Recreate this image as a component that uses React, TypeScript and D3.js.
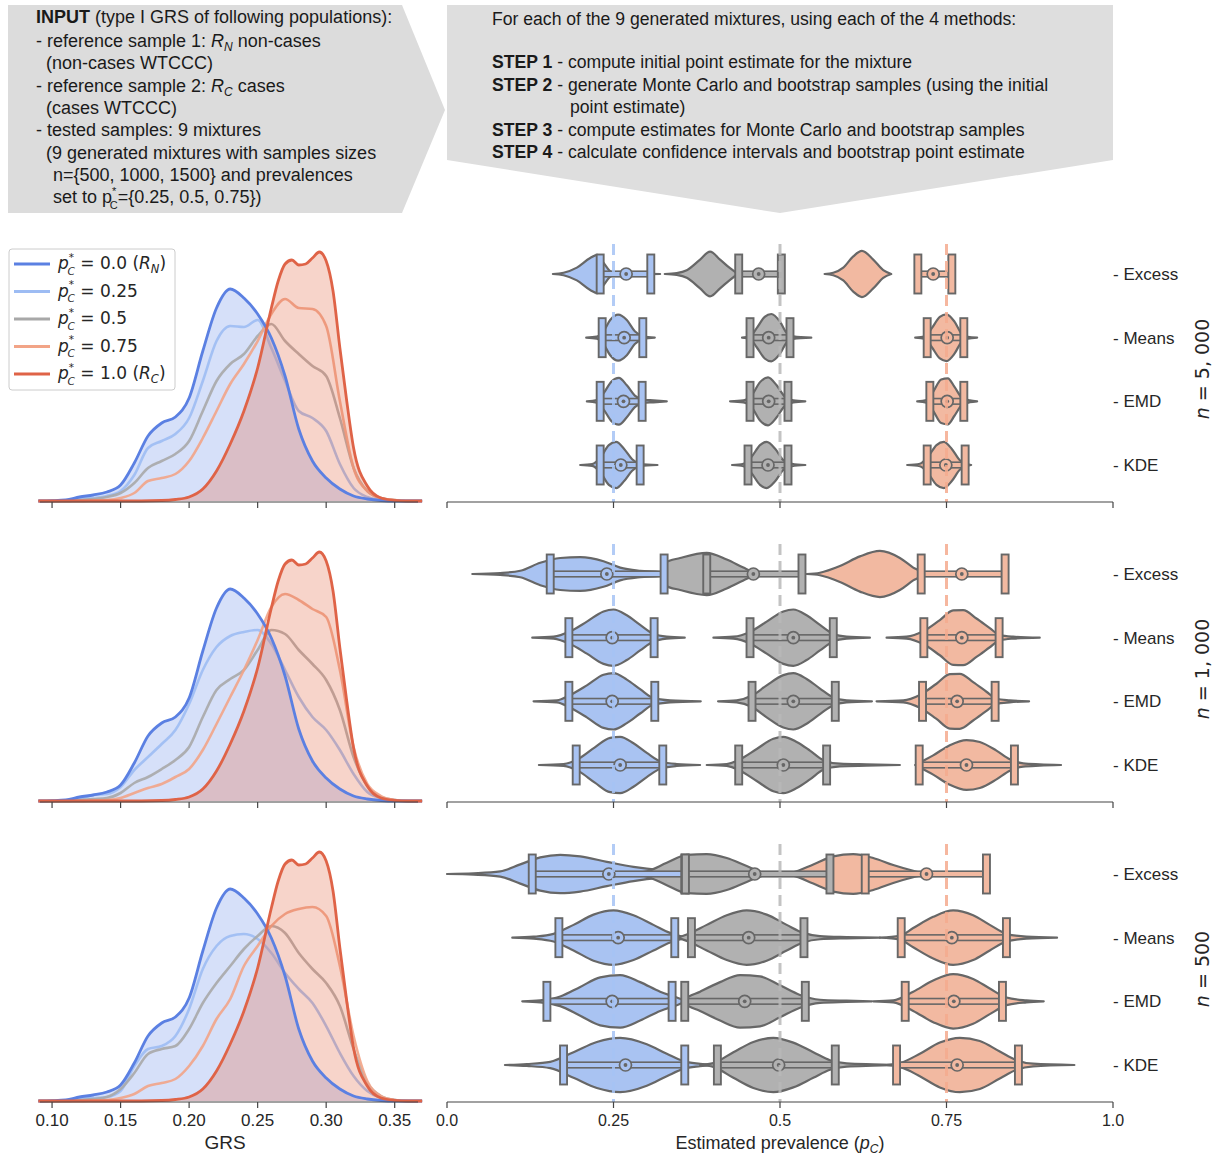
import React from "react";
import * as d3 from "d3";

// ---------------- DATA ----------------
const GRS_GRID = [0.09, 0.10, 0.11, 0.12, 0.13, 0.14, 0.15, 0.16, 0.17, 0.18, 0.19, 0.20, 0.21, 0.22, 0.23, 0.24, 0.25, 0.26, 0.27, 0.28, 0.29, 0.30, 0.31, 0.32, 0.33, 0.34, 0.35, 0.36, 0.37];
// reference non-cases R_N (density, arbitrary units)
const RN_DENSITY = [0, 0.3, 1, 4, 6, 9, 16, 38, 65, 78, 84, 103, 150, 193, 212, 203, 187, 163, 125, 72, 40, 23, 12, 5, 2, 0.5, 0, 0, 0];
// reference cases R_C
const RC_GRID = [0.09, 0.15, 0.18, 0.19, 0.20, 0.21, 0.22, 0.23, 0.24, 0.25, 0.26, 0.265, 0.27, 0.275, 0.28, 0.285, 0.29, 0.295, 0.30, 0.305, 0.31, 0.315, 0.32, 0.33, 0.34, 0.35, 0.36, 0.37];
const RC_DENSITY = [0, 0, 0.5, 1.5, 4, 12, 30, 57, 90, 133, 193, 220, 237, 241, 236, 237, 243, 249, 240, 210, 153, 100, 53, 15, 3, 0.7, 0, 0];

// mixtures p*_C = 0.25, 0.5, 0.75 for each sample size
const MIX_N5000 = [
  [0, 0, 0.5, 2, 3, 5, 10, 26, 53, 60, 67, 83, 120, 160, 175, 174, 181, 153, 120, 90, 83, 70, 37, 13, 4, 1, 0, 0, 0],
  [0, 0, 0, 1, 2, 4, 8, 18, 33, 40, 47, 60, 90, 120, 137, 147, 165, 177, 160, 147, 135, 125, 83, 33, 10, 3, 1, 0, 0],
  [0, 0, 0, 0, 0.5, 1, 3, 8, 20, 23, 27, 40, 63, 90, 117, 137, 160, 187, 202, 193, 192, 175, 100, 33, 10, 3, 1, 0, 0],
];
const MIX_N1000 = [
  [0, 0, 0.5, 2, 6, 7, 14, 31, 44, 57, 71, 97, 131, 154, 165, 169, 171, 157, 131, 104, 84, 71, 51, 27, 9, 3, 1, 0, 0],
  [0, 0, 0, 1, 2, 3, 8, 18, 24, 32, 41, 54, 84, 111, 122, 131, 151, 171, 167, 151, 137, 121, 91, 44, 15, 4, 1, 0, 0],
  [0, 0, 0, 0, 0.5, 1, 3, 8, 13, 17, 24, 32, 51, 77, 104, 131, 161, 194, 207, 201, 192, 184, 131, 54, 17, 5, 1, 0, 0],
];
const MIX_N500 = [
  [0, 0, 0.5, 2, 3, 4, 10, 35, 52, 55, 65, 92, 132, 155, 165, 167, 162, 148, 128, 112, 98, 75, 48, 25, 10, 3, 1, 0, 0],
  [0, 0, 0, 1, 2, 4, 12, 28, 47, 52, 55, 72, 98, 118, 135, 152, 165, 175, 168, 148, 132, 118, 95, 52, 18, 5, 1, 0, 0],
  [0, 0, 0, 0, 0.5, 1, 3, 7, 15, 18, 22, 35, 55, 82, 102, 135, 155, 175, 187, 192, 194, 185, 135, 65, 20, 5, 1, 0, 0],
];

const METHODS = ["Excess", "Means", "EMD", "KDE"];
const TRUE_PREV = [0.25, 0.5, 0.75];
const N_LABELS = ["5, 000", "1, 000", "500"];
const GRS_TICKS = [0.10, 0.15, 0.20, 0.25, 0.30, 0.35];
const PREV_TICKS = [0, 0.25, 0.5, 0.75, 1.0];
const PREV_TICK_LABELS = ["0.0", "0.25", "0.5", "0.75", "1.0"];

// violin profiles: [estimated prevalence, relative density], per method x mixture
const VIOLINS_N5000 = [
  [
    [[0.159, 0], [0.175, 0.04], [0.195, 0.2], [0.215, 0.5], [0.226, 0.6], [0.235, 0.35], [0.248, 0.05], [0.27, 0.03], [0.32, 0]],
    [[0.327, 0], [0.345, 0.03], [0.36, 0.12], [0.38, 0.45], [0.395, 0.7], [0.41, 0.45], [0.425, 0.18], [0.437, 0]],
    [[0.567, 0], [0.58, 0.04], [0.595, 0.2], [0.61, 0.55], [0.623, 0.72], [0.64, 0.45], [0.655, 0.12], [0.667, 0]],
  ],
  [
    [[0.209, 0], [0.225, 0.03], [0.235, 0.2], [0.245, 0.55], [0.257, 0.72], [0.27, 0.55], [0.282, 0.2], [0.295, 0.04], [0.312, 0]],
    [[0.443, 0], [0.455, 0.04], [0.465, 0.3], [0.477, 0.65], [0.487, 0.74], [0.5, 0.5], [0.51, 0.15], [0.52, 0.04], [0.547, 0]],
    [[0.703, 0], [0.718, 0.04], [0.728, 0.3], [0.74, 0.65], [0.75, 0.73], [0.762, 0.5], [0.772, 0.15], [0.782, 0.03], [0.796, 0]],
  ],
  [
    [[0.21, 0], [0.225, 0.04], [0.235, 0.25], [0.247, 0.62], [0.258, 0.73], [0.27, 0.5], [0.282, 0.18], [0.295, 0.05], [0.31, 0.03], [0.33, 0]],
    [[0.425, 0], [0.445, 0.03], [0.458, 0.2], [0.47, 0.6], [0.482, 0.75], [0.495, 0.5], [0.507, 0.15], [0.52, 0.03], [0.538, 0]],
    [[0.706, 0], [0.72, 0.04], [0.73, 0.3], [0.742, 0.68], [0.752, 0.72], [0.762, 0.45], [0.773, 0.12], [0.785, 0.03], [0.796, 0]],
  ],
  [
    [[0.2, 0], [0.218, 0.03], [0.23, 0.22], [0.243, 0.62], [0.254, 0.72], [0.266, 0.5], [0.278, 0.18], [0.29, 0.04], [0.316, 0]],
    [[0.428, 0], [0.445, 0.04], [0.457, 0.25], [0.47, 0.62], [0.48, 0.72], [0.493, 0.5], [0.505, 0.15], [0.518, 0.04], [0.538, 0]],
    [[0.691, 0], [0.71, 0.04], [0.722, 0.25], [0.735, 0.62], [0.746, 0.72], [0.758, 0.5], [0.77, 0.15], [0.778, 0.05], [0.787, 0]],
  ],
];
const VIOLINS_N1000 = [
  [
    [[0.038, 0], [0.08, 0.03], [0.11, 0.1], [0.14, 0.35], [0.17, 0.5], [0.2, 0.53], [0.235, 0.4], [0.26, 0.2], [0.29, 0.1], [0.32, 0.06], [0.33, 0]],
    [[0.326, 0], [0.327, 0.35], [0.35, 0.5], [0.39, 0.66], [0.42, 0.45], [0.445, 0.2], [0.46, 0.06], [0.47, 0]],
    [[0.54, 0], [0.56, 0.04], [0.59, 0.25], [0.62, 0.55], [0.65, 0.72], [0.68, 0.5], [0.7, 0.2], [0.712, 0.05], [0.714, 0]],
  ],
  [
    [[0.128, 0], [0.16, 0.03], [0.185, 0.2], [0.21, 0.5], [0.235, 0.82], [0.25, 0.88], [0.27, 0.7], [0.29, 0.4], [0.31, 0.12], [0.33, 0.03], [0.357, 0]],
    [[0.4, 0], [0.43, 0.03], [0.455, 0.18], [0.48, 0.5], [0.505, 0.82], [0.52, 0.88], [0.54, 0.7], [0.56, 0.4], [0.58, 0.12], [0.6, 0.03], [0.635, 0]],
    [[0.66, 0], [0.69, 0.03], [0.715, 0.2], [0.74, 0.55], [0.76, 0.85], [0.775, 0.86], [0.795, 0.6], [0.815, 0.3], [0.83, 0.08], [0.85, 0.03], [0.89, 0]],
  ],
  [
    [[0.13, 0], [0.165, 0.03], [0.185, 0.2], [0.21, 0.5], [0.235, 0.83], [0.25, 0.88], [0.27, 0.68], [0.29, 0.38], [0.31, 0.1], [0.335, 0.03], [0.381, 0]],
    [[0.407, 0], [0.435, 0.03], [0.458, 0.18], [0.48, 0.5], [0.505, 0.82], [0.52, 0.88], [0.54, 0.7], [0.56, 0.4], [0.58, 0.12], [0.6, 0.03], [0.638, 0]],
    [[0.645, 0], [0.685, 0.03], [0.71, 0.2], [0.735, 0.55], [0.755, 0.85], [0.77, 0.86], [0.79, 0.6], [0.81, 0.3], [0.825, 0.08], [0.845, 0.03], [0.874, 0]],
  ],
  [
    [[0.138, 0], [0.175, 0.03], [0.198, 0.2], [0.222, 0.55], [0.245, 0.85], [0.26, 0.88], [0.28, 0.68], [0.3, 0.38], [0.322, 0.1], [0.345, 0.03], [0.38, 0]],
    [[0.39, 0], [0.42, 0.03], [0.44, 0.18], [0.465, 0.5], [0.49, 0.82], [0.505, 0.88], [0.525, 0.72], [0.545, 0.45], [0.565, 0.15], [0.59, 0.04], [0.63, 0.02], [0.68, 0]],
    [[0.703, 0], [0.71, 0.08], [0.73, 0.3], [0.755, 0.62], [0.78, 0.78], [0.8, 0.72], [0.825, 0.45], [0.845, 0.18], [0.865, 0.05], [0.89, 0.02], [0.922, 0]],
  ],
];
const VIOLINS_N500 = [
  [
    [[0.0, 0], [0.04, 0.02], [0.08, 0.08], [0.11, 0.3], [0.14, 0.52], [0.17, 0.6], [0.2, 0.55], [0.24, 0.38], [0.28, 0.22], [0.32, 0.12], [0.357, 0.08], [0.36, 0]],
    [[0.27, 0], [0.3, 0.08], [0.33, 0.35], [0.36, 0.6], [0.39, 0.62], [0.42, 0.5], [0.45, 0.25], [0.475, 0.05], [0.5, 0.02], [0.51, 0]],
    [[0.5, 0], [0.52, 0.05], [0.55, 0.3], [0.58, 0.55], [0.61, 0.62], [0.64, 0.5], [0.67, 0.28], [0.7, 0.1], [0.715, 0.03], [0.73, 0]],
  ],
  [
    [[0.098, 0], [0.13, 0.03], [0.16, 0.12], [0.19, 0.4], [0.22, 0.72], [0.25, 0.85], [0.28, 0.7], [0.31, 0.4], [0.335, 0.15], [0.345, 0.08], [0.36, 0]],
    [[0.345, 0], [0.36, 0.1], [0.39, 0.4], [0.42, 0.7], [0.45, 0.85], [0.48, 0.72], [0.51, 0.4], [0.535, 0.15], [0.56, 0.05], [0.6, 0.02], [0.65, 0]],
    [[0.65, 0], [0.68, 0.06], [0.7, 0.3], [0.73, 0.65], [0.76, 0.85], [0.79, 0.7], [0.815, 0.4], [0.84, 0.12], [0.87, 0.03], [0.916, 0]],
  ],
  [
    [[0.113, 0], [0.14, 0.03], [0.17, 0.15], [0.2, 0.45], [0.23, 0.75], [0.26, 0.82], [0.29, 0.6], [0.32, 0.3], [0.345, 0.12], [0.36, 0]],
    [[0.356, 0], [0.357, 0.05], [0.38, 0.3], [0.41, 0.6], [0.44, 0.82], [0.47, 0.78], [0.5, 0.5], [0.53, 0.2], [0.56, 0.05], [0.6, 0.02], [0.638, 0]],
    [[0.64, 0], [0.67, 0.03], [0.7, 0.3], [0.73, 0.65], [0.76, 0.85], [0.79, 0.7], [0.815, 0.4], [0.84, 0.12], [0.87, 0.03], [0.896, 0]],
  ],
  [
    [[0.087, 0], [0.12, 0.03], [0.155, 0.1], [0.19, 0.4], [0.225, 0.72], [0.26, 0.85], [0.3, 0.65], [0.33, 0.35], [0.355, 0.12], [0.38, 0.04], [0.4, 0]],
    [[0.38, 0], [0.4, 0.06], [0.43, 0.4], [0.46, 0.72], [0.49, 0.85], [0.52, 0.7], [0.55, 0.4], [0.575, 0.15], [0.6, 0.05], [0.64, 0.02], [0.68, 0]],
    [[0.66, 0], [0.68, 0.06], [0.71, 0.35], [0.74, 0.7], [0.77, 0.85], [0.8, 0.75], [0.83, 0.42], [0.855, 0.15], [0.88, 0.04], [0.942, 0]],
  ],
];

// confidence intervals: [lower, bootstrap point estimate, upper]
const CI_N5000 = [
  [[0.23, 0.269, 0.306], [0.438, 0.468, 0.502], [0.707, 0.73, 0.758]],
  [[0.233, 0.266, 0.294], [0.455, 0.483, 0.515], [0.721, 0.751, 0.776]],
  [[0.23, 0.265, 0.293], [0.455, 0.483, 0.512], [0.725, 0.751, 0.776]],
  [[0.23, 0.261, 0.29], [0.452, 0.482, 0.512], [0.721, 0.749, 0.778]],
];
const CI_N1000 = [
  [[0.155, 0.24, 0.326], [0.39, 0.46, 0.533], [0.712, 0.773, 0.838]],
  [[0.183, 0.248, 0.311], [0.455, 0.52, 0.58], [0.716, 0.773, 0.829]],
  [[0.183, 0.248, 0.312], [0.458, 0.52, 0.583], [0.714, 0.766, 0.823]],
  [[0.194, 0.26, 0.324], [0.438, 0.505, 0.57], [0.709, 0.78, 0.852]],
];
const CI_N500 = [
  [[0.128, 0.243, 0.357], [0.358, 0.462, 0.575], [0.628, 0.72, 0.81]],
  [[0.168, 0.257, 0.342], [0.367, 0.453, 0.536], [0.682, 0.758, 0.84]],
  [[0.15, 0.248, 0.338], [0.357, 0.447, 0.538], [0.688, 0.761, 0.834]],
  [[0.175, 0.268, 0.357], [0.406, 0.498, 0.583], [0.675, 0.766, 0.858]],
];

// ---------------- STYLE ----------------
const FONT = "'Liberation Sans', Arial, Helvetica, sans-serif";
const MATH = "'DejaVu Sans', sans-serif";
const RN_COLOR = "#5b80e2";
const RC_COLOR = "#df6347";
const MIX_LINE = ["#9dbcf3", "#a8a8a8", "#f2a487"];
const VIOLIN_FILL = ["#a9c3f2", "#b1b1b1", "#f2b9a1"];
const DASH_COLOR = ["#a6c3f5", "#b8b8b8", "#f4aa8e"];
const EDGE = "#676767";
const AXIS = "#444";

const BASE = [502, 802, 1102];
const ROWS = [
  { mix: MIX_N5000, violins: VIOLINS_N5000, ci: CI_N5000 },
  { mix: MIX_N1000, violins: VIOLINS_N1000, ci: CI_N1000 },
  { mix: MIX_N500, violins: VIOLINS_N500, ci: CI_N500 },
];

const xL = d3.scaleLinear().domain([0.0912, 0.367]).range([40, 418]);
const xR = d3.scaleLinear().domain([0, 1]).range([447, 1113]);
const VH = 32;

function LegendLabel({ x, y, value, sub }: { x: number; y: number; value: string; sub?: string }) {
  return (
    <text x={x} y={y} fontFamily={MATH} fontSize={17} fill="#262626">
      <tspan fontStyle="italic">p</tspan>
      <tspan fontSize={10.5} dy={-8.5}>*</tspan>
      <tspan fontSize={10.5} fontStyle="italic" dx={-6.5} dy={14}>C</tspan>
      <tspan dy={-5.5}>{` = ${value}`}</tspan>
      {sub ? (
        <>
          <tspan>{" ("}</tspan>
          <tspan fontStyle="italic">R</tspan>
          <tspan fontSize={11.5} fontStyle="italic" dy={4}>{sub}</tspan>
          <tspan dy={-4}>)</tspan>
        </>
      ) : null}
    </text>
  );
}

export default function App() {
  const lineGen = (xs: number[]) =>
    d3
      .line<number>()
      .x((_, i) => xL(xs[i]))
      .curve(d3.curveMonotoneX);

  return (
    <svg width={1219} height={1156} style={{ display: "block", position: "absolute", left: 0, top: 0 }} fontFamily={FONT}>
      <rect x={0} y={0} width={1219} height={1156} fill="#fff" />
      {/* Header shapes */}
      <polygon points="447,5 1113,5 1113,160 780,213 447,160" fill="#dedede" />
      <polygon points="8,5 402,5 445,110 402,213 8,213" fill="#dcdcdc" />
      <g fontSize={18} fill="#1a1a1a">
        <text x={36} y={23}>
          <tspan fontWeight="bold">INPUT</tspan> (type I GRS of following populations):
        </text>
        <text x={36} y={47}>
          - reference sample 1: <tspan fontStyle="italic">R</tspan>
          <tspan fontSize={12} fontStyle="italic" dy={4}>N</tspan>
          <tspan dy={-4}> non-cases</tspan>
        </text>
        <text x={46} y={69}>(non-cases WTCCC)</text>
        <text x={36} y={92}>
          - reference sample 2: <tspan fontStyle="italic">R</tspan>
          <tspan fontSize={12} fontStyle="italic" dy={4}>C</tspan>
          <tspan dy={-4}> cases</tspan>
        </text>
        <text x={46} y={114}>(cases WTCCC)</text>
        <text x={36} y={136}>- tested samples: 9 mixtures</text>
        <text x={46} y={159}>(9 generated mixtures with samples sizes</text>
        <text x={53} y={181}>{"n={500, 1000, 1500} and prevalences"}</text>
        <text x={53} y={203}>
          set to p<tspan fontSize={11} dy={-8.5}>*</tspan>
          <tspan fontSize={11} dx={-6.5} dy={14}>C</tspan>
          <tspan dy={-5.5}>{"={0.25, 0.5, 0.75})"}</tspan>
        </text>
      </g>
      <g fontSize={17.6} fill="#1a1a1a">
        <text x={492} y={25}>For each of the 9 generated mixtures, using each of the 4 methods:</text>
        <text x={492} y={68}>
          <tspan fontWeight="bold">STEP 1</tspan> - compute initial point estimate for the mixture
        </text>
        <text x={492} y={91}>
          <tspan fontWeight="bold">STEP 2</tspan> - generate Monte Carlo and bootstrap samples (using the initial
        </text>
        <text x={570} y={113}>point estimate)</text>
        <text x={492} y={136}>
          <tspan fontWeight="bold">STEP 3</tspan> - compute estimates for Monte Carlo and bootstrap samples
        </text>
        <text x={492} y={158}>
          <tspan fontWeight="bold">STEP 4</tspan> - calculate confidence intervals and bootstrap point estimate
        </text>
      </g>

      {ROWS.map((row, ri) => {
        const b = BASE[ri];
        const yL = d3.scaleLinear().domain([0, 250]).range([b - 1, b - 251]);
        const gridLine = lineGen(GRS_GRID).y((d) => yL(d));
        const rcLine = lineGen(RC_GRID).y((d) => yL(d));
        const gridArea = d3
          .area<number>()
          .x((_, i) => xL(GRS_GRID[i]))
          .y0(yL(0))
          .y1((d) => yL(d))
          .curve(d3.curveMonotoneX);
        const rcArea = d3
          .area<number>()
          .x((_, i) => xL(RC_GRID[i]))
          .y0(yL(0))
          .y1((d) => yL(d))
          .curve(d3.curveMonotoneX);
        const yCat = d3.scalePoint<string>().domain(METHODS).range([b - 228, b - 37]);
        const last = ri === ROWS.length - 1;
        return (
          <g key={ri}>
            {/* Left: GRS densities */}
            <path d={gridArea(RN_DENSITY) || ""} fill="#6a8ee8" fillOpacity={0.28} />
            {row.mix.map((m, mi) => (
              <path key={mi} d={gridLine(m) || ""} fill="none" stroke={MIX_LINE[mi]} strokeWidth={2.6} strokeOpacity={0.9} />
            ))}
            <path d={rcArea(RC_DENSITY) || ""} fill="#e56f50" fillOpacity={0.3} />
            <path d={gridLine(RN_DENSITY) || ""} fill="none" stroke={RN_COLOR} strokeWidth={2.8} />
            <path d={rcLine(RC_DENSITY) || ""} fill="none" stroke={RC_COLOR} strokeWidth={2.8} />
            <line x1={xL.range()[0]} x2={xL.range()[1]} y1={b} y2={b} stroke={AXIS} strokeWidth={1.2} />
            {GRS_TICKS.map((t) => (
              <g key={t}>
                <line x1={xL(t)} x2={xL(t)} y1={b} y2={b + 6} stroke={AXIS} strokeWidth={1.2} />
                {last ? (
                  <text x={xL(t)} y={b + 24} textAnchor="middle" fontSize={17} fill="#262626">
                    {t.toFixed(2)}
                  </text>
                ) : null}
              </g>
            ))}

            {/* Right: violins */}
            {row.violins.map((method, mi) =>
              method.map((v, ki) => {
                const cy = yCat(METHODS[mi]) as number;
                const area = d3
                  .area<number[]>()
                  .x((d) => xR(d[0]))
                  .y0((d) => cy - d[1] * VH)
                  .y1((d) => cy + d[1] * VH)
                  .curve(d3.curveMonotoneX);
                return (
                  <path key={`v${mi}-${ki}`} d={area(v as number[][]) || ""} fill={VIOLIN_FILL[ki]} stroke={EDGE} strokeWidth={2.2} strokeLinejoin="round" />
                );
              })
            )}
            {row.ci.map((method, mi) =>
              method.map((c, ki) => {
                const cy = yCat(METHODS[mi]) as number;
                const [lo, est, hi] = c;
                return (
                  <g key={`c${mi}-${ki}`}>
                    <rect x={xR(lo)} y={cy - 2.8} width={xR(hi) - xR(lo)} height={5.6} fill={VIOLIN_FILL[ki]} stroke={EDGE} strokeWidth={1.6} />
                    <rect x={xR(lo) - 3.5} y={cy - 19.5} width={7} height={39} fill={VIOLIN_FILL[ki]} stroke={EDGE} strokeWidth={1.9} />
                    <rect x={xR(hi) - 3.5} y={cy - 19.5} width={7} height={39} fill={VIOLIN_FILL[ki]} stroke={EDGE} strokeWidth={1.9} />
                    <circle cx={xR(est)} cy={cy} r={6} fill={VIOLIN_FILL[ki]} stroke={EDGE} strokeWidth={1.7} />
                    <circle cx={xR(est)} cy={cy} r={1.9} fill={EDGE} />
                  </g>
                );
              })
            )}
            {TRUE_PREV.map((p, pi) => (
              <line key={p} x1={xR(p)} x2={xR(p)} y1={b - 258} y2={b} stroke={DASH_COLOR[pi]} strokeWidth={3} strokeDasharray="11,6" strokeOpacity={0.85} />
            ))}
            <line x1={xR(0)} x2={xR(1)} y1={b} y2={b} stroke={AXIS} strokeWidth={1.2} />
            {PREV_TICKS.map((t, ti) => (
              <g key={t}>
                <line x1={xR(t)} x2={xR(t)} y1={b} y2={b + 6} stroke={AXIS} strokeWidth={1.2} />
                {last ? (
                  <text x={xR(t)} y={b + 24} textAnchor="middle" fontSize={16} fill="#262626">
                    {PREV_TICK_LABELS[ti]}
                  </text>
                ) : null}
              </g>
            ))}
            {METHODS.map((m) => (
              <text key={m} x={1113} y={(yCat(m) as number) + 6} fontSize={17} fill="#262626">
                {`- ${m}`}
              </text>
            ))}
            <text transform={`translate(1209, ${b - 133}) rotate(-90)`} textAnchor="middle" fontFamily={MATH} fontSize={19} fill="#262626">
              <tspan fontStyle="italic">n</tspan>
              {` = ${N_LABELS[ri]}`}
            </text>
          </g>
        );
      })}

      {/* axis titles */}
      <text x={225} y={1149} textAnchor="middle" fontSize={19} fill="#262626">GRS</text>
      <text x={780} y={1149} textAnchor="middle" fontSize={18} fill="#262626">
        Estimated prevalence (<tspan fontStyle="italic">p</tspan>
        <tspan fontSize={12} fontStyle="italic" dy={4}>C</tspan>
        <tspan dy={-4}>)</tspan>
      </text>

      {/* Legend */}
      <g>
        <rect x={9} y={249} width={166} height={141} rx={3} fill="#fff" fillOpacity={0.85} stroke="#cccccc" strokeWidth={1} />
        {[
          { c: RN_COLOR, v: "0.0", s: "N" },
          { c: MIX_LINE[0], v: "0.25" },
          { c: MIX_LINE[1], v: "0.5" },
          { c: MIX_LINE[2], v: "0.75" },
          { c: RC_COLOR, v: "1.0", s: "C" },
        ].map((e, i) => {
          const y = 264 + i * 27.5;
          return (
            <g key={i}>
              <line x1={14} x2={50} y1={y} y2={y} stroke={e.c} strokeWidth={3} />
              <LegendLabel x={58} y={y + 5} value={e.v} sub={e.s} />
            </g>
          );
        })}
      </g>
    </svg>
  );
}
